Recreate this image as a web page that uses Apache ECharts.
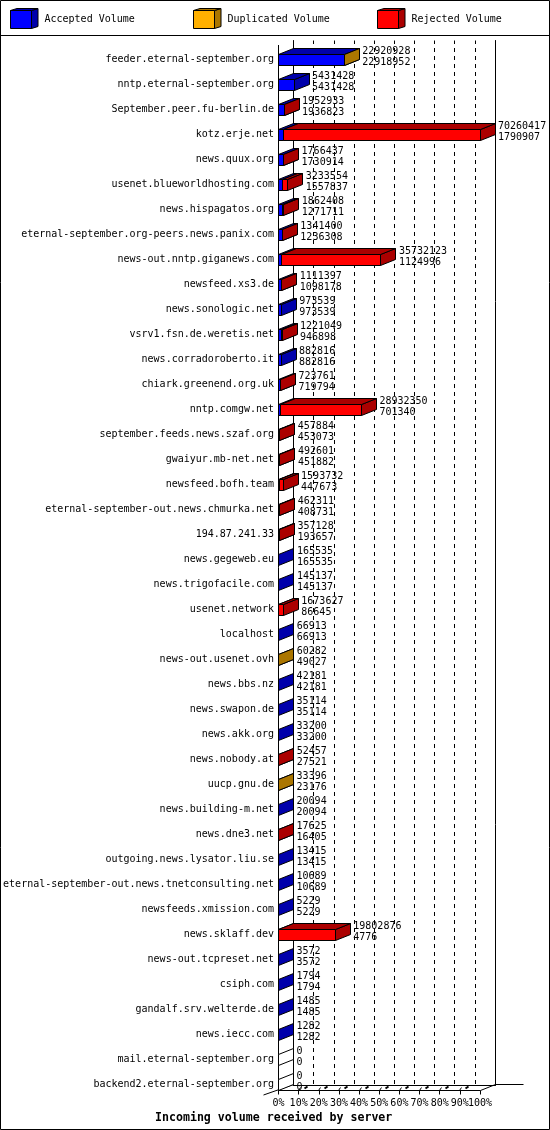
<!DOCTYPE html>
<html><head><meta charset="utf-8">
<style>html,body{margin:0;padding:0;background:#fff}#c{width:550px;height:1130px}</style>
<script src="https://cdn.jsdelivr.net/npm/echarts@6/dist/echarts.min.js"></script>
</head><body><div id="c"></div>
<script>
const categories = ["feeder.eternal-september.org","nntp.eternal-september.org","September.peer.fu-berlin.de","kotz.erje.net","news.quux.org","usenet.blueworldhosting.com","news.hispagatos.org","eternal-september.org-peers.news.panix.com","news-out.nntp.giganews.com","newsfeed.xs3.de","news.sonologic.net","vsrv1.fsn.de.weretis.net","news.corradoroberto.it","chiark.greenend.org.uk","nntp.comgw.net","september.feeds.news.szaf.org","gwaiyur.mb-net.net","newsfeed.bofh.team","eternal-september-out.news.chmurka.net","194.87.241.33","news.gegeweb.eu","news.trigofacile.com","usenet.network","localhost","news-out.usenet.ovh","news.bbs.nz","news.swapon.de","news.akk.org","news.nobody.at","uucp.gnu.de","news.building-m.net","news.dne3.net","outgoing.news.lysator.liu.se","eternal-september-out.news.tnetconsulting.net","newsfeeds.xmission.com","news.sklaff.dev","news-out.tcpreset.net","csiph.com","gandalf.srv.welterde.de","news.iecc.com","mail.eternal-september.org","backend2.eternal-september.org"];
const totalVolume = [22920928,5431428,1952933,70260417,1766437,3233554,1862408,1341400,35732123,1111397,973539,1221049,882816,723761,28932350,457884,492601,1593732,462311,357128,165535,145137,1673627,66913,60282,42181,35114,33200,52457,33396,20094,17625,13415,10689,5229,19802876,3572,1794,1485,1282,0,0];
const acceptedVolume = [22918952,5431428,1936823,1790907,1730914,1557837,1271711,1236308,1124996,1098178,973539,946898,882816,719794,701340,453073,451882,447673,408731,193657,165535,145137,86645,66913,49027,42181,35114,33200,27521,23176,20094,16405,13415,10689,5229,4776,3572,1794,1485,1282,0,0];
const duplicatedVolume = [1976,0,0,0,0,0,0,0,0,0,0,0,0,0,0,0,0,0,0,0,0,0,0,0,11255,0,0,0,0,10220,0,0,0,0,0,0,0,0,0,0,0,0];
const rejectedVolume = [0,0,16110,68469510,35523,1675717,590697,105092,34607127,13219,0,274151,0,3967,28231010,4811,40719,1146059,53580,163471,0,0,1586982,0,0,0,0,0,24936,0,0,1220,0,0,0,19798100,0,0,0,0,0,0];
const tickValues = [0,10,20,30,40,50,60,70,80,90,100];
const MONO = '"DejaVu Sans Mono", monospace';
const maxTotal = Math.max.apply(null, totalVolume);
const pct = v => v / maxTotal * 100;
const DX = 15, DY = 6;

function boxRender(front, dark) {
  return function (params, api) {
    const row = api.value(0), s = api.value(1), e = api.value(2), nonzero = api.value(3);
    const a = api.coord([s, row]), b = api.coord([e, row]);
    const x0 = Math.round(a[0] - .5) + .5, x1 = Math.round(b[0] - .5) + .5;
    const ft = Math.floor(a[1]) - 4.5, fb = Math.floor(a[1]) + 6.5;
    const st = {stroke:'#000', lineWidth:1};
    const kids = [];
    const sideFill = nonzero ? dark : '#fff';
    kids.push({type:'polygon', shape:{points:[[x1,ft],[x1+DX,ft-DY],[x1+DX,fb-DY],[x1,fb]]}, style:Object.assign({fill:sideFill},st)});
    if (x1 > x0) {
      kids.push({type:'polygon', shape:{points:[[x0,ft],[x0+DX,ft-DY],[x1+DX,ft-DY],[x1,ft]]}, style:Object.assign({fill:dark},st)});
      kids.push({type:'rect', shape:{x:x0,y:ft,width:x1-x0,height:fb-ft}, style:Object.assign({fill:front},st)});
    }
    return {type:'group', children:kids};
  };
}
function segs(which) {
  const out = [];
  categories.forEach((c,i) => {
    const acc = acceptedVolume[i], dup = duplicatedVolume[i], rej = rejectedVolume[i];
    if (which === 0 && totalVolume[i] === 0) out.push([i,0,0,0]);
    if (which === 0 && acc > 0) out.push([i,0,pct(acc),1]);
    if (which === 1 && dup > 0) out.push([i,pct(acc),pct(acc+dup),1]);
    if (which === 2 && rej > 0) out.push([i,pct(acc+dup),pct(acc+dup+rej),1]);
  });
  return out;
}
function boxSeries(name, which, front, dark) {
  return {name, type:'custom', coordinateSystem:'cartesian2d', xAxisIndex:0, yAxisIndex:0, clip:false, z:3,
    itemStyle:{color:front}, encode:{x:[1,2], y:0}, data:segs(which), renderItem:boxRender(front,dark)};
}
function legend(name, left, front) {
  return {left, top:10, padding:0, itemWidth:21, itemHeight:18, itemGap:0, selectedMode:false,
    textStyle:{fontFamily:MONO, fontSize:10, color:'#000', padding:[4,0,0,8]},
    data:[{name, icon:'rect', itemStyle:{color:front, borderColor:'#000', borderWidth:1}}]};
}
function swatch(x, dark) {
  const L=x+.5, R=x+21.5, T=10.5, B=28.5, dx=6.5, dy=2;
  return [
    {type:'polygon', z:100, shape:{points:[[R,T],[R+dx,T-dy],[R+dx,B-dy],[R,B]]}, style:{fill:dark, stroke:'#000', lineWidth:1}},
    {type:'polygon', z:100, shape:{points:[[L,T],[L+dx,T-dy],[R+dx,T-dy],[R,T]]}, style:{fill:dark, stroke:'#000', lineWidth:1}}
  ];
}
const BLUE='#0000ff', BLUEDK='#0000ab', ORG='#ffb000', ORGDK='#ab7600', RED='#ff0000', REDDK='#ab0000';
const noAxisBits = {axisLabel:{show:false}, axisTick:{show:false}};
const tickLabelStyle = {show:true, margin:8, fontFamily:MONO, fontSize:10, color:'#000', formatter:'{value}%', hideOverlap:false};

const chart = echarts.init(document.getElementById('c'), null, {renderer:'canvas', width:550, height:1130});
chart.setOption({
  animation:false,
  backgroundColor:'#fff',
  title:{text:'Incoming volume received by server', left:155, top:1111, padding:0,
    textStyle:{fontFamily:MONO, fontSize:11.6, fontWeight:'bold', color:'#000', lineHeight:14}},
  legend:[legend('Accepted Volume',10,BLUE), legend('Duplicated Volume',193,ORG), legend('Rejected Volume',377,RED)],
  grid:[
    {left:278.5, top:46.5, width:201.5, height:1050},
    {left:293.5, top:40.5, width:201.5, height:1045}
  ],
  xAxis:[
    {type:'value', gridIndex:0, min:0, max:100, interval:10, position:'bottom', offset:-6,
     axisLine:{show:true, onZero:false, lineStyle:{color:'#000', width:1}},
     axisTick:{show:true, length:4, lineStyle:{color:'#000'}},
     splitLine:{show:false},
     axisLabel:Object.assign({customValues:tickValues.slice(0,10)}, tickLabelStyle)},
    Object.assign({type:'value', gridIndex:1, min:0, max:100, interval:10, position:'bottom',
     axisLine:{show:true, onZero:false, lineStyle:{color:'#000', width:1}},
     splitLine:{show:true, showMinLine:false, showMaxLine:false, lineStyle:{color:'#000', width:1, type:[4,4], dashOffset:0.5}}}, noAxisBits),
    {type:'value', gridIndex:0, min:0, max:100, interval:10, position:'bottom', offset:-6,
     axisLine:{show:false}, axisTick:{show:false}, splitLine:{show:false},
     axisLabel:Object.assign({customValues:[100]}, tickLabelStyle)}
  ],
  yAxis:[
    {type:'category', gridIndex:0, inverse:true, data:categories,
     axisLine:{show:false}, axisTick:{show:false}, splitLine:{show:false},
     axisLabel:{interval:0, margin:4.5, fontFamily:MONO, fontSize:10, color:'#000', padding:[2,0,0,0]}},
    Object.assign({type:'value', gridIndex:1, position:'left', min:0, max:1, axisLine:{show:true, onZero:false, lineStyle:{color:'#000', width:1}}, splitLine:{show:false}}, noAxisBits),
    Object.assign({type:'value', gridIndex:1, position:'right', min:0, max:1, axisLine:{show:true, onZero:false, lineStyle:{color:'#000', width:1}}, splitLine:{show:false}}, noAxisBits)
  ],
  graphic:[
    {type:'rect', silent:true, z:100, shape:{x:.5,y:.5,width:549,height:1129}, style:{fill:null, stroke:'#000', lineWidth:1}},
    {type:'line', silent:true, z:100, shape:{x1:0,y1:35.5,x2:550,y2:35.5}, style:{stroke:'#000', lineWidth:1}}
  ].concat(swatch(10,BLUEDK), swatch(193,ORGDK), swatch(377,REDDK)),
  series:[
    {type:'custom', name:'floor', coordinateSystem:'cartesian2d', xAxisIndex:0, yAxisIndex:0, clip:false, z:1,
     data:tickValues.map(t => [t]), encode:{x:0},
     renderItem:function (params, api) {
       const t = api.value(0);
       const p = api.coord([t, categories.length-1]);
       const x = Math.round(p[0]-.5)+.5, y = Math.floor(p[1])+6.5;
       const ln = {stroke:'#000', lineWidth:1};
       const kids = [];
       if (t === 0) {
         kids.push({type:'line', shape:{x1:x,y1:45,x2:x,y2:y}, style:ln});
         kids.push({type:'line', shape:{x1:x-15,y1:y+4.5,x2:x+DX,y2:y-DY}, style:ln});
       } else if (t === 100) {
         kids.push({type:'line', shape:{x1:x,y1:y,x2:x+DX,y2:y-DY}, style:ln});
         kids.push({type:'line', shape:{x1:x+DX,y1:y-DY,x2:x+DX+28,y2:y-DY}, style:ln});
       } else {
         kids.push({type:'line', shape:{x1:x,y1:y,x2:x+2,y2:y-3}, style:ln});
         kids.push({type:'line', shape:{x1:x+6,y1:y-2,x2:x+9,y2:y-4}, style:{stroke:'#000', lineWidth:2}});
       }
       return {type:'group', children:kids};
     }},
    boxSeries('Accepted Volume',0,BLUE,BLUEDK),
    boxSeries('Duplicated Volume',1,ORG,ORGDK),
    boxSeries('Rejected Volume',2,RED,REDDK),
    {type:'custom', name:'values', coordinateSystem:'cartesian2d', xAxisIndex:0, yAxisIndex:0, clip:false, z:5,
     data:categories.map((c,i) => [i, pct(totalVolume[i]), totalVolume[i], acceptedVolume[i]]), encode:{x:1, y:0},
     renderItem:function (params, api) {
       const p = api.coord([api.value(1), api.value(0)]);
       const x = p[0] + DX + 3;
       const mk = (txt, y) => ({type:'text', style:{x, y, text:String(txt), fill:'#000', font:'10px '+MONO, textAlign:'left', textVerticalAlign:'middle'}});
       return {type:'group', children:[mk(api.value(2), p[1]-8), mk(api.value(3), p[1]+3)]};
     }}
  ]
});
</script></body></html>
